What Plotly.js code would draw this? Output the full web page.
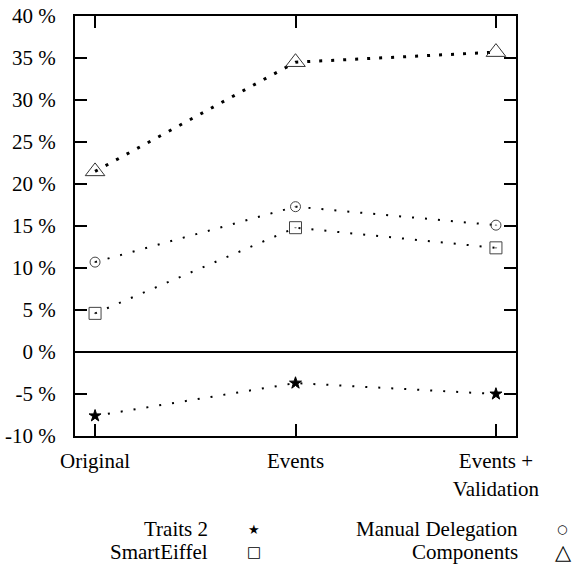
<!DOCTYPE html>
<html><head><meta charset="utf-8">
<script src="https://cdn.plot.ly/plotly-3.0.1.min.js"></script>
<style>body{margin:0;background:#fff}#c{width:577px;height:567px}</style>
</head><body><div id="c"></div>
<script>
var categories = ["Original", "Events", "Events +<br>Validation"];
var seriesNames = ["Traits 2", "SmartEiffel", "Manual Delegation", "Components"];
var traits2 = [-7.6, -3.7, -5.0];
var smartEiffel = [4.6, 14.8, 12.4];
var manualDelegation = [10.7, 17.3, 15.1];
var components = [21.5, 34.5, 35.7];
var yTicks = [-10, -5, 0, 5, 10, 15, 20, 25, 30, 35, 40];
var legendSymbols = ["★", "□", "○", "△"];

var xIdx = categories.map(function(_, i){ return i; });
var font = "'Liberation Serif', 'Times New Roman', serif";

function tr(name, y, sym, size, lw, dash, mcolor, fill) {
  return {
    name: name, x: xIdx, y: y, type: "scatter", mode: "lines+markers",
    line: {color: "#000", width: lw, dash: dash},
    marker: {symbol: sym, size: size, color: fill, line: {color: mcolor, width: 1}},
    showlegend: false, cliponaxis: false
  };
}

var data = [
  tr(seriesNames[3], components, "triangle-up-open", 17, 3, "3px,9px", "#333", "#333"),
  tr(seriesNames[2], manualDelegation, "circle-open-dot", 10, 2, "2px,11px", "#444", "#444"),
  tr(seriesNames[1], smartEiffel, "square-open-dot", 12, 2, "2px,11px", "#444", "#444"),
  tr(seriesNames[0], traits2, "star", 9, 2, "2px,11px", "#000", "#000")
];

var ann = [];
var legPos = [
  {tx: 210, sx: 254, y: 529},
  {tx: 210, sx: 254, y: 552},
  {tx: 520, sx: 562, y: 529},
  {tx: 520, sx: 563, y: 552}
];
[0, 1, 2, 3].forEach(function(k){
  var p = legPos[k];
  ann.push({xref: "paper", yref: "paper", x: (p.tx - 75) / 441, y: (436 - p.y) / 420,
    text: seriesNames[k], showarrow: false, xanchor: "right", yanchor: "middle",
    font: {family: font, size: 21, color: "#000"}});
  ann.push({xref: "paper", yref: "paper", x: (p.sx - 75) / 441, y: (436 - p.y) / 420,
    text: legendSymbols[k], showarrow: false, xanchor: "center", yanchor: "middle",
    font: {family: "'DejaVu Sans', sans-serif", size: k === 2 ? 12 : (k === 0 ? 13 : (k === 1 ? 15 : 21)), color: "#000"}});
});

var layout = {
  width: 577, height: 567,
  margin: {l: 75, r: 61, t: 16, b: 131},
  paper_bgcolor: "#fff", plot_bgcolor: "#fff",
  font: {family: font, size: 21, color: "#000"},
  xaxis: {
    range: [-0.1, 2.1], tickvals: xIdx, ticktext: categories,
    showgrid: false, zeroline: false, showline: true, linecolor: "#000", linewidth: 2,
    mirror: "ticks", ticks: "inside", ticklen: 12, tickwidth: 2, tickcolor: "#000",
    tickfont: {family: font, size: 21}, ticklabelstandoff: 5
  },
  yaxis: {
    range: [-10, 40], tickvals: yTicks, ticktext: yTicks.map(function(v){ return v + " %"; }),
    showgrid: false, zeroline: true, zerolinecolor: "#000", zerolinewidth: 2,
    showline: true, linecolor: "#000", linewidth: 2,
    mirror: "ticks", ticks: "inside", ticklen: 12, tickwidth: 2, tickcolor: "#000",
    tickfont: {family: font, size: 21}, ticklabelstandoff: 13
  },
  annotations: ann,
  showlegend: false
};
Plotly.newPlot("c", data, layout, {displayModeBar: false, staticPlot: true});
</script></body></html>
